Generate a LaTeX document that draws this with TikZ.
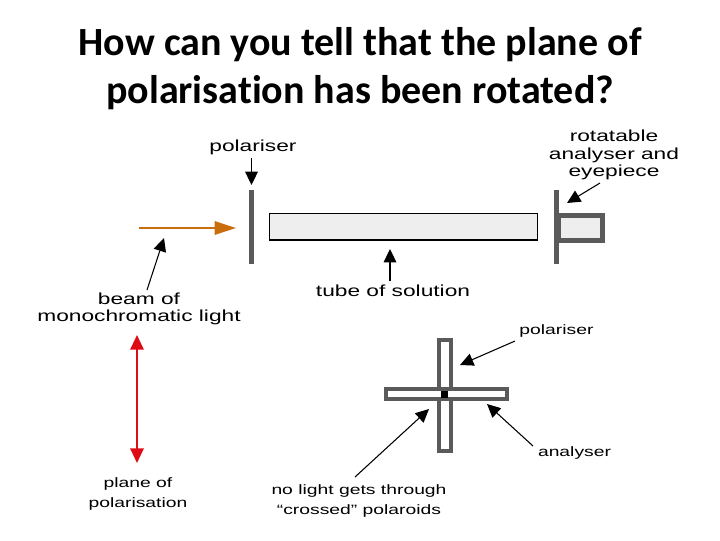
\documentclass[tikz,border=0pt]{standalone}
\usepackage{fontspec}
\usepackage{xcolor}
\usetikzlibrary{arrows.meta}
\newfontfamily\titlefont[Ligatures=NoCommon]{Carlito}
\newfontfamily\labelfont[FakeStretch=1.42]{Liberation Sans}
\definecolor{bargray}{RGB}{90, 90, 90}
\definecolor{tubegray}{RGB}{238, 238, 238}
\definecolor{beamorange}{RGB}{200, 110, 15}
\definecolor{planered}{RGB}{222, 10, 20}

\begin{document}
\begin{tikzpicture}[
    x=0.75pt, y=-0.75pt,
    heading/.style={align=center, inner sep=0pt, font=\titlefont\bfseries\fontsize{30}{36}\selectfont},
    lbl/.style={align=center, inner sep=0pt, font=\labelfont\fontsize{12}{13}\selectfont},
    lblsmall/.style={align=center, inner sep=0pt, font=\labelfont\fontsize{10.2}{14.5}\selectfont},
    bar/.style={rectangle, fill=bargray, inner sep=0pt, minimum width=3.75pt, minimum height=55.5pt},
    tube/.style={rectangle, draw=black, fill=tubegray, line width=1pt, inner sep=0pt,
                 minimum width=201pt, minimum height=20pt},
    eyebox/.style={rectangle, draw=bargray, fill=tubegray, line width=3.75pt, inner sep=0pt,
                   minimum width=33pt, minimum height=18.75pt},
    slitv/.style={rectangle, draw=bargray, fill=white, line width=3pt, inner sep=0pt,
                  minimum width=9pt, minimum height=83.25pt},
    slith/.style={rectangle, draw=bargray, fill=white, line width=3pt, inner sep=0pt,
                  minimum width=90.75pt, minimum height=7.5pt},
    hole/.style={rectangle, fill=black, inner sep=0pt, minimum size=5.25pt},
    ptr/.style={-{Triangle[length=10pt, width=9.5pt]}, line width=0.8pt, black},
    beam/.style={-{Triangle[length=16pt, width=10pt]}, line width=1.5pt, beamorange},
    plane/.style={{Triangle[length=11pt, width=10pt]}-{Triangle[length=11pt, width=10pt]}, line width=1.5pt, planered}
]
\useasboundingbox (0,0) rectangle (720,540);

\node[heading] (T) at (360,69) {How can you tell that the plane of\\polarisation has been rotated?};

\node[bar] (P1) at (251.5,227) {};
\node[tube] (TB) at (403.5,226.5) {};
\node[eyebox] (EY) at (580,227.5) {};
\node[bar] (A1) at (556.5,227) {};

\node[slitv] (SV) at (445,395.5) {};
\node[slith] (SH) at (446.5,394) {};
\node[hole] (HL) at (444,394) {};

\node[lbl] (LP1) at (253,147) {polariser};
\node[lbl] (LA1) at (614,155) {rotatable\\analyser and\\eyepiece};
\node[lbl] (LT)  at (393,291) {tube of solution};
\node[lbl] (LB)  at (139,309) {beam of\\monochromatic light};
\node[lblsmall] (LPL) at (138,494) {plane of\\polarisation};
\node[lblsmall] (LP2) at (556.5,331) {polariser};
\node[lblsmall] (LA2) at (574.5,453) {analyser};
\node[lblsmall] (LN)  at (359,501) {no light gets through\\“crossed” polaroids};

\coordinate (B0) at (139,228);
\coordinate (B1) at (236,228);
\coordinate (c0) at (251.5,158);
\coordinate (c1) at (251.5,185);
\coordinate (c2) at (567,203);
\coordinate (c3) at (390,249);
\coordinate (c4) at (164,238);
\coordinate (c5) at (460,365);
\coordinate (c6) at (487,404);
\coordinate (c7) at (429,409);
\coordinate (d2) at (600,183);
\coordinate (d3) at (390,281);
\coordinate (d4) at (147,290);
\coordinate (d5) at (515,341);
\coordinate (d6) at (533,446);
\coordinate (d7) at (355,477);
\coordinate (R0) at (137,335);
\coordinate (R1) at (137,463);

\draw[beam] (B0) -- (B1);
\draw[plane] (R0) -- (R1);

\draw[ptr] (c0) -- (c1);
\draw[ptr] (d2) -- (c2);
\draw[ptr] (d3) -- (c3);
\draw[ptr] (d4) -- (c4);
\draw[ptr] (d5) -- (c5);
\draw[ptr] (d6) -- (c6);
\draw[ptr] (d7) -- (c7);

\end{tikzpicture}
\end{document}
